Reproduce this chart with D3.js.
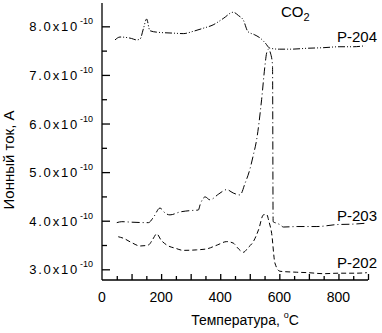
<!DOCTYPE html>
<html>
<head>
<meta charset="utf-8">
<script src="https://cdn.jsdelivr.net/npm/d3@7"></script>
<style>
  body { margin: 0; background: #fff; }
  text { font-family: "Liberation Sans", Arial, sans-serif; fill: #000; }
</style>
</head>
<body>
<div id="chart"></div>
<script>
// data (temperature in C, ion current in 1e-10 A)
let p204T = [44, 61, 100, 117, 129, 140, 151, 162, 185, 241, 275, 310, 342, 376, 410, 444, 462, 478, 494, 515, 535, 552, 568, 600, 636, 700, 748, 805, 850, 890];
let p204I = [7.72, 7.78, 7.75, 7.72, 7.74, 7.95, 8.15, 7.91, 7.88, 7.86, 7.85, 7.9, 7.96, 8.03, 8.16, 8.29, 8.22, 8.13, 7.89, 7.83, 7.76, 7.66, 7.55, 7.53, 7.53, 7.55, 7.56, 7.58, 7.58, 7.6];

let p203T = [50, 67, 100, 157, 175, 196, 215, 230, 264, 303, 326, 332, 349, 365, 395, 422, 444, 467, 484, 500, 512, 523, 540, 551, 557, 563, 570, 577, 579, 590, 602, 614, 660, 727, 794, 850, 896];
let p203I = [3.96, 3.98, 3.97, 3.96, 4.08, 4.26, 4.15, 4.12, 4.18, 4.21, 4.22, 4.33, 4.49, 4.43, 4.55, 4.64, 4.57, 4.53, 4.77, 5.05, 5.35, 5.66, 6.49, 7.17, 7.45, 7.53, 7.45, 7.2, 3.98, 3.95, 3.92, 3.87, 3.88, 3.88, 3.92, 3.93, 3.95];

let p202T = [55, 72, 100, 129, 157, 172, 185, 200, 219, 250, 275, 320, 354, 390, 422, 444, 462, 478, 495, 512, 530, 546, 557, 565, 574, 585, 602, 659, 700, 749, 800, 862, 896];
let p202I = [3.67, 3.64, 3.55, 3.48, 3.50, 3.62, 3.73, 3.6, 3.50, 3.43, 3.39, 3.4, 3.42, 3.5, 3.57, 3.54, 3.42, 3.35, 3.45, 3.57, 3.82, 4.12, 4.13, 3.98, 3.74, 3.13, 2.96, 2.94, 2.93, 2.91, 2.92, 2.92, 2.93];

let xTicks = [0, 200, 400, 600, 800];
let yTicks = [3, 4, 5, 6, 7, 8];
let seriesNames = ["P-204", "P-203", "P-202"];

let width = 382, height = 333;
let x = d3.scaleLinear().domain([0, 900]).range([102, 368]);
let y = d3.scaleLinear().domain([2.78, 8.48]).range([280, 3]);

let svg = d3.select("#chart").append("svg")
    .attr("width", width)
    .attr("height", height);

// axes, ticks pointing inward
let yAxis = svg.append("g")
    .attr("transform", "translate(" + x(0) + ",0)")
    .call(d3.axisRight(y).tickValues(d3.range(3, 8.5, 0.5)).tickSize(5).tickFormat(""));
yAxis.select(".domain").attr("d", "M0," + y.range()[1] + "V" + y.range()[0]);
yAxis.selectAll(".tick line").attr("x2", d => d % 1 === 0 ? 8 : 5);

let xAxis = svg.append("g")
    .attr("transform", "translate(0," + y.range()[0] + ")")
    .call(d3.axisTop(x).tickValues(d3.range(50, 901, 50)).tickSize(5).tickFormat(""));
xAxis.select(".domain").attr("d", "M" + x.range()[0] + ",0H" + x.range()[1]);
xAxis.selectAll(".tick line").attr("y2", d => d % 100 === 0 ? -6 : -4);

svg.selectAll(".domain, .tick line").attr("stroke", "#000").attr("stroke-width", 1.3);

// tick labels
svg.append("g").selectAll("text")
    .data(yTicks).enter().append("text")
    .attr("x", 79)
    .attr("y", d => y(d) + 5)
    .attr("text-anchor", "end")
    .attr("font-size", 13)
    .attr("letter-spacing", 1.8)
    .text(d => d.toFixed(1) + "x10");
svg.append("g").selectAll("text")
    .data(yTicks).enter().append("text")
    .attr("x", 80)
    .attr("y", d => y(d) - 2)
    .attr("font-size", 9)
    .text("-10");

svg.append("g").selectAll("text")
    .data(xTicks).enter().append("text")
    .attr("x", d => x(d))
    .attr("y", 302)
    .attr("text-anchor", "middle")
    .attr("font-size", 14)
    .text(d => d);

// axis titles
let xt = svg.append("text")
    .attr("x", 245)
    .attr("y", 325)
    .attr("text-anchor", "middle")
    .attr("font-size", 14);
xt.append("tspan").text("Температура, ");
xt.append("tspan").attr("font-size", 9).attr("dy", -7).text("o");
xt.append("tspan").attr("dy", 7).text("C");

svg.append("text")
    .attr("transform", "translate(14,160) rotate(-90)")
    .attr("text-anchor", "middle")
    .attr("font-size", 15)
    .text("Ионный ток, А");

// curves
let line = d3.line().x(d => x(d[0])).y(d => y(d[1])).curve(d3.curveMonotoneX);
let series = [
  {t: p204T, v: p204I, dash: "7,2,1,2,1,2"},
  {t: p203T, v: p203I, dash: "8,3,1,3"},
  {t: p202T, v: p202I, dash: "5,3"}
];
svg.selectAll(".curve")
    .data(series).enter().append("path")
    .attr("class", "curve")
    .attr("fill", "none")
    .attr("stroke", "#000")
    .attr("stroke-width", 1)
    .attr("stroke-dasharray", d => d.dash)
    .attr("d", d => line(d.t.map((t, i) => [t, d.v[i]])));

// labels
let labelY = [42, 221, 268];
svg.selectAll(".lab")
    .data(seriesNames).enter().append("text")
    .attr("class", "lab")
    .attr("x", 337)
    .attr("y", (d, i) => labelY[i])
    .attr("font-size", 15)
    .text(d => d);

let co = svg.append("text")
    .attr("x", 281)
    .attr("y", 17)
    .attr("font-size", 15);
co.append("tspan").text("CO");
co.append("tspan").attr("font-size", 11).attr("dy", 4).text("2");
</script>
</body>
</html>
